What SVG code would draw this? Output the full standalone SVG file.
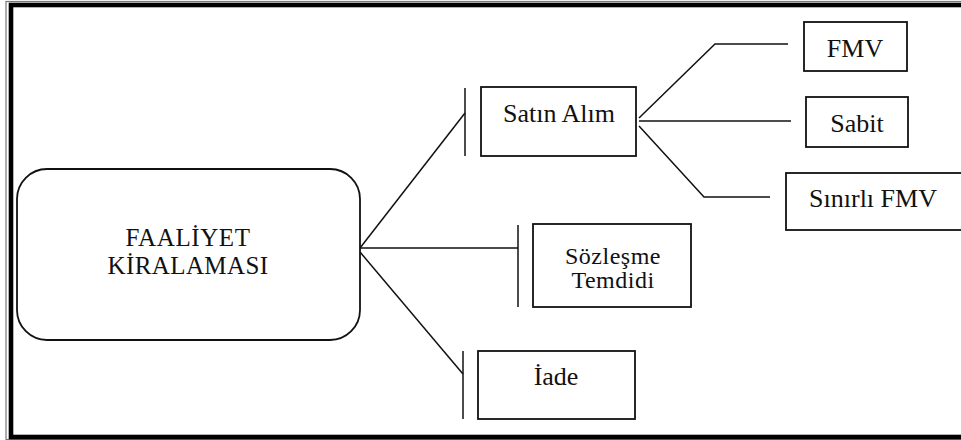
<svg xmlns="http://www.w3.org/2000/svg" width="961" height="440" viewBox="0 0 961 440">
<style>
.box{fill:#fff;stroke:#111;stroke-width:1.8}
.ln{fill:none;stroke:#111;stroke-width:1.5}
.t{font-size:26px;fill:#111;text-anchor:middle}
.b{font-size:25px}
.s{font-size:24px;letter-spacing:0.5px}
</style>
<rect x="0" y="0" width="961" height="440" fill="#fff"/>
<g id="frame">
<rect x="6" y="1.5" width="970" height="438" fill="none" stroke="#777" stroke-width="1.2"/>
<rect x="11" y="5" width="960" height="432" fill="none" stroke="#000" stroke-width="4.6"/>
</g>
<g id="connectors" class="ln">
<polyline points="360,248 465,113"/>
<line x1="465" y1="88" x2="465" y2="156"/>
<line x1="360" y1="248" x2="518" y2="248"/>
<line x1="518" y1="225" x2="518" y2="307"/>
<polyline points="360,252 463,374"/>
<line x1="463" y1="351" x2="463" y2="419"/>
<polyline points="639,118 715,44 788,44"/>
<line x1="639" y1="121" x2="791" y2="121"/>
<polyline points="639,126 704,197 770,197"/>
</g>
<g font-family="Liberation Serif, DejaVu Serif, serif">
<g id="faaliyet">
<rect class="box" x="17" y="169" width="343" height="171" rx="30" ry="30"/>
<text class="t b" x="188" y="246" letter-spacing="0.6">FAALİYET</text>
<text class="t b" x="188" y="274" letter-spacing="0.4">KİRALAMASI</text>
</g>
<g id="satin-alim">
<rect class="box" x="481" y="87" width="155" height="69"/>
<text class="t" x="559" y="122">Satın Alım</text>
</g>
<g id="fmv">
<rect class="box" x="804" y="22" width="103" height="49"/>
<text class="t" x="855" y="57">FMV</text>
</g>
<g id="sabit">
<rect class="box" x="806" y="97" width="102" height="50"/>
<text class="t" x="857" y="132">Sabit</text>
</g>
<g id="sinirli-fmv">
<rect class="box" x="786" y="173" width="190" height="57"/>
<text class="t" x="873" y="207">Sınırlı FMV</text>
</g>
<g id="sozlesme">
<rect class="box" x="533" y="224" width="158" height="83"/>
<text class="t s" x="613" y="264">Sözleşme</text>
<text class="t s" x="613" y="288">Temdidi</text>
</g>
<g id="iade">
<rect class="box" x="478" y="351" width="157" height="68"/>
<text class="t" x="556" y="385">İade</text>
</g>
</g>
</svg>
